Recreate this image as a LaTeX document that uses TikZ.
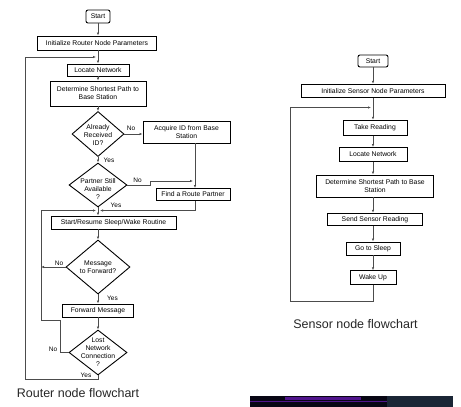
\documentclass[tikz,border=0pt]{standalone}
\usepackage{fontspec}
\setmainfont{Liberation Sans}
\usepackage{tikz}
\usetikzlibrary{shapes.geometric, arrows.meta, positioning, calc}
\definecolor{stripdark}{RGB}{8,6,20}
\definecolor{stripslate}{RGB}{26,37,53}
\definecolor{strippurple}{RGB}{80,20,140}

\begin{document}
\begin{tikzpicture}[
    x=1pt, y=-1pt,
    box/.style={rectangle, draw, line width=0.9pt, inner sep=1pt, align=center, font=\fontsize{6.8}{8}\selectfont},
    term/.style={box, rounded corners=2pt},
    decision/.style={diamond, draw, line width=0.9pt, shape aspect=1.3, inner xsep=-8pt, inner ysep=-6pt, align=center, font=\fontsize{6.8}{8}\selectfont},
    conn/.style={draw=black!70, line width=0.6pt},
    arr/.style={conn, -{Latex[length=3pt, width=2.4pt]}},
    lbl/.style={font=\fontsize{6.5}{7}\selectfont, inner sep=0pt},
    caption/.style={font=\fontsize{12.5}{14}\selectfont, text=black!85},
    ]
\useasboundingbox (0,0) rectangle (461,407);

% Router node flowchart
\node[term, minimum width=24pt, minimum height=13pt] (rstart) at (98,16.5) {Start};
\node[box, minimum width=119pt, minimum height=14pt] (rinit) at (97,43) {Initialize Router Node Parameters};
\node[box, minimum width=62pt, minimum height=12pt] (rlocate) at (98,70) {Locate Network};
\node[box, minimum width=96pt, minimum height=25pt] (rpath) at (98,93.5) {Determine Shortest Path to\\Base Station};
\node[decision, minimum width=52pt, minimum height=45pt] (received) at (98,134) {\rule{0pt}{7pt}Already\\Received\\ID?};
\node[box, minimum width=87pt, minimum height=22pt] (acquire) at (186.5,132) {Acquire ID from Base\\Station};
\node[decision, minimum width=58pt, minimum height=44pt] (partner) at (98,185) {\rule{0pt}{13pt}Partner Still\\Available\\?};
\node[box, minimum width=74pt, minimum height=12pt] (find) at (193,194.5) {Find a Route Partner};
\node[box, minimum width=125pt, minimum height=13pt] (routine) at (113.5,222.5) {Start/Resume Sleep/Wake Routine};
\node[decision, minimum width=64pt, minimum height=54pt] (message) at (98,267) {Message\\to Forward?};
\node[box, minimum width=71pt, minimum height=13pt] (forward) at (98,310.5) {Forward Message};
\node[decision, minimum width=58pt, minimum height=45pt] (lost) at (98,352.5) {Lost\\Network\\Connection\\?};

\coordinate (lcol) at (98,0);
\coordinate (rcol) at (195,0);
\coordinate (rtop) at (96,57);
\coordinate (outer) at (25,379);
\coordinate (pjoin) at (193,181);
\coordinate (pstep) at (150,185);
\coordinate (mergeL) at (96,210.5);
\coordinate (mergeR) at (100,210.5);
\coordinate (nloop) at (41,210.5);
\coordinate (nstep) at (60,320);

\foreach \a/\b in {rstart/rinit, rinit/rlocate, rlocate/rpath, rpath/received, received/partner, routine/message, message/forward, forward/lost}
    \draw[arr] (\a.south -| lcol) -- (\b.north -| lcol);

\draw[arr] (received.east) -- (received.east -| acquire.west);
\draw[arr] (acquire.south -| rcol) -- (find.north -| rcol);
\draw[arr] (partner.east) -- (pstep) |- (pjoin);
\draw[conn] (partner.south) -- (partner.south |- mergeL);
\draw[arr] (find.south -| rcol) |- (mergeR);
\draw[arr] (lcol |- mergeL) -- (routine.north -| lcol);
\draw[arr] (message.west) -- (message.west -| nloop);
\draw[arr] (lost.west) -| (nstep) -| (nloop) -- (mergeL);
\draw[arr] (lost.south) |- (outer) |- (rtop);

% Yes / No labels
\node[lbl] (l1) at (131,128) {No};
\node[lbl] (l2) at (109,160) {Yes};
\node[lbl] (l3) at (137.5,180) {No};
\node[lbl] (l4) at (116,205) {Yes};
\node[lbl] (l5) at (59,263) {No};
\node[lbl] (l6) at (112.5,298) {Yes};
\node[lbl] (l7) at (53,349) {No};
\node[lbl] (l8) at (86,375) {Yes};

% Sensor node flowchart
\node[term, minimum width=30pt, minimum height=12pt] (sstart) at (373,61) {Start};
\node[box, minimum width=144pt, minimum height=13.5pt] (sinit) at (373,91) {Initialize Sensor Node Parameters};
\node[box, minimum width=64pt, minimum height=15.5pt] (reading) at (375,128) {Take Reading};
\node[box, minimum width=68pt, minimum height=14pt] (slocate) at (373,154.5) {Locate Network};
\node[box, minimum width=117pt, minimum height=22pt] (spath) at (375,186) {Determine Shortest Path to Base\\Station};
\node[box, minimum width=95pt, minimum height=12.5pt] (send) at (375,219.5) {Send Sensor Reading};
\node[box, minimum width=54pt, minimum height=13pt] (sleep) at (373,248.5) {Go to Sleep};
\node[box, minimum width=46pt, minimum height=13.5pt] (wake) at (373,277.5) {Wake Up};

\coordinate (scol) at (373,0);
\coordinate (stop) at (371,107.5);
\coordinate (sloop) at (290,301.5);

\foreach \a/\b in {sstart/sinit, sinit/reading, reading/slocate, slocate/spath, spath/send, send/sleep, sleep/wake}
    \draw[arr] (\a.south -| scol) -- (\b.north -| scol);
\draw[arr] (wake.south) |- (sloop) |- (stop);

% Captions
\node[caption] (rcap) at (78,393) {Router node flowchart};
\node[caption] (scap) at (355.5,324) {Sensor node flowchart};

% strip at the bottom edge
\fill[stripdark] (250,396) rectangle (387,407);
\fill[stripslate] (387,396) rectangle (453,407);
\draw[strippurple, line width=0.8pt] (250,401.5) -- (387,401.5);
\fill[strippurple] (285,397) rectangle (361,400);

\end{tikzpicture}
\end{document}
